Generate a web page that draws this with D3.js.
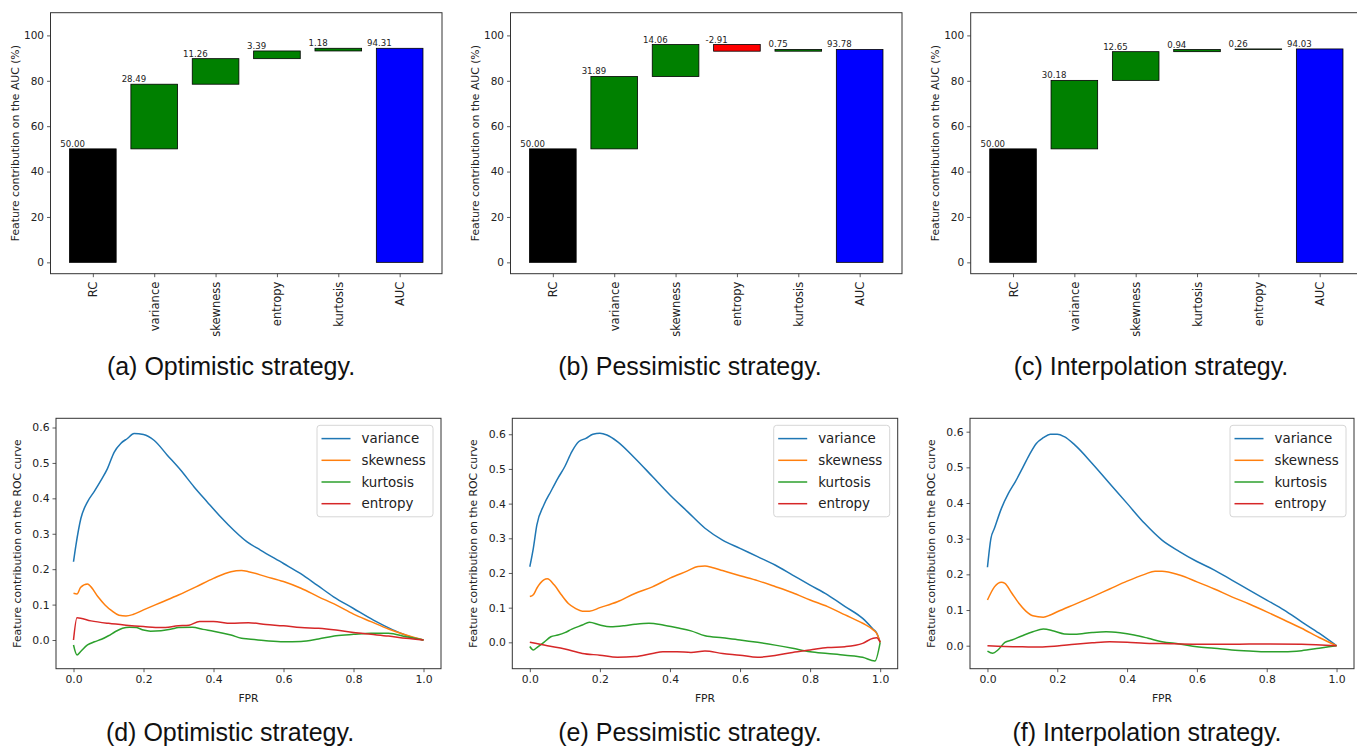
<!DOCTYPE html>
<html>
<head>
<meta charset="utf-8">
<script src="https://cdn.jsdelivr.net/npm/d3@7"></script>
<style>
  body { margin: 0; background: #fff; }
  text { font-family: "DejaVu Sans", sans-serif; fill: #222; }
  .caption { font-family: "Liberation Sans", Arial, sans-serif; font-size: 25px; fill: #111; }
</style>
</head>
<body>
<script>
// waterfall data
var catsA = ['RC', 'variance', 'skewness', 'entropy', 'kurtosis', 'AUC'];
var valsA = [50.00, 28.49, 11.26, 3.39, 1.18, 94.31];
var catsB = ['RC', 'variance', 'skewness', 'entropy', 'kurtosis', 'AUC'];
var valsB = [50.00, 31.89, 14.06, -2.91, 0.75, 93.78];
var catsC = ['RC', 'variance', 'skewness', 'kurtosis', 'entropy', 'AUC'];
var valsC = [50.00, 30.18, 12.65, 0.94, 0.26, 94.03];
var aucTicks = [0, 20, 40, 60, 80, 100];

// ROC contribution curves, [FPR, value]
var varD = [[0,0.221],[0.007,0.268],[0.021,0.343],[0.04,0.39],[0.059,0.419],[0.078,0.45],[0.097,0.484],[0.116,0.53],[0.135,0.555],[0.154,0.569],[0.173,0.583],[0.2,0.58],[0.23,0.564],[0.268,0.522],[0.306,0.48],[0.344,0.433],[0.382,0.39],[0.42,0.348],[0.458,0.31],[0.496,0.277],[0.534,0.254],[0.6,0.216],[0.648,0.188],[0.696,0.155],[0.743,0.122],[0.8,0.089],[0.857,0.056],[0.914,0.028],[0.962,0.009],[1,0]];
var skeD = [[0,0.132],[0.01,0.13],[0.02,0.148],[0.04,0.158],[0.05,0.15],[0.07,0.122],[0.09,0.099],[0.11,0.082],[0.13,0.07],[0.15,0.068],[0.17,0.072],[0.2,0.085],[0.25,0.106],[0.3,0.127],[0.35,0.15],[0.4,0.174],[0.45,0.193],[0.48,0.196],[0.5,0.193],[0.55,0.179],[0.6,0.165],[0.65,0.146],[0.7,0.122],[0.75,0.099],[0.8,0.073],[0.85,0.052],[0.9,0.031],[0.95,0.014],[1,0]];
var kurD = [[0,-0.014],[0.01,-0.042],[0.02,-0.033],[0.04,-0.014],[0.06,-0.005],[0.08,0.002],[0.1,0.012],[0.12,0.024],[0.14,0.033],[0.16,0.036],[0.18,0.035],[0.2,0.028],[0.22,0.025],[0.25,0.026],[0.28,0.031],[0.3,0.035],[0.34,0.036],[0.37,0.03],[0.4,0.025],[0.45,0.014],[0.48,0.005],[0.5,0.003],[0.55,-0.002],[0.6,-0.005],[0.65,-0.004],[0.7,0.003],[0.75,0.012],[0.8,0.016],[0.85,0.019],[0.9,0.019],[0.95,0.009],[1,0]];
var entD = [[0,0],[0.01,0.063],[0.05,0.054],[0.1,0.047],[0.15,0.042],[0.2,0.038],[0.25,0.035],[0.3,0.04],[0.33,0.042],[0.36,0.052],[0.4,0.052],[0.45,0.047],[0.5,0.049],[0.55,0.044],[0.6,0.04],[0.65,0.035],[0.7,0.033],[0.75,0.028],[0.8,0.021],[0.85,0.016],[0.9,0.011],[0.95,0.005],[1,0]];

var varE = [[0,0.218],[0.01,0.271],[0.02,0.338],[0.04,0.396],[0.06,0.435],[0.08,0.473],[0.1,0.507],[0.12,0.55],[0.14,0.579],[0.16,0.588],[0.18,0.6],[0.2,0.603],[0.22,0.598],[0.25,0.579],[0.3,0.531],[0.35,0.478],[0.4,0.425],[0.45,0.377],[0.5,0.329],[0.55,0.295],[0.6,0.271],[0.65,0.247],[0.7,0.223],[0.75,0.194],[0.8,0.165],[0.85,0.137],[0.9,0.103],[0.95,0.069],[0.98,0.038],[0.99,0.027],[1,0]];
var skeE = [[0,0.132],[0.01,0.137],[0.02,0.156],[0.04,0.18],[0.05,0.183],[0.07,0.165],[0.09,0.137],[0.11,0.112],[0.13,0.098],[0.15,0.09],[0.17,0.09],[0.2,0.1],[0.25,0.117],[0.3,0.141],[0.35,0.16],[0.4,0.185],[0.45,0.206],[0.48,0.219],[0.5,0.22],[0.52,0.216],[0.55,0.207],[0.6,0.192],[0.65,0.178],[0.7,0.161],[0.75,0.143],[0.8,0.122],[0.85,0.103],[0.9,0.079],[0.95,0.055],[0.98,0.036],[0.99,0.026],[1,0]];
var kurE = [[0,-0.012],[0.01,-0.022],[0.02,-0.015],[0.04,0],[0.06,0.016],[0.08,0.021],[0.1,0.028],[0.12,0.038],[0.15,0.05],[0.17,0.058],[0.2,0.05],[0.23,0.045],[0.27,0.048],[0.3,0.052],[0.34,0.055],[0.38,0.05],[0.42,0.042],[0.46,0.033],[0.5,0.019],[0.55,0.013],[0.6,0.007],[0.65,0],[0.7,-0.008],[0.75,-0.017],[0.8,-0.027],[0.85,-0.032],[0.9,-0.037],[0.95,-0.043],[0.985,-0.054],[1,0]];
var entE = [[0,0],[0.05,-0.01],[0.1,-0.019],[0.15,-0.032],[0.2,-0.037],[0.25,-0.043],[0.3,-0.041],[0.35,-0.032],[0.38,-0.027],[0.42,-0.027],[0.46,-0.029],[0.5,-0.025],[0.55,-0.032],[0.6,-0.037],[0.65,-0.043],[0.7,-0.038],[0.75,-0.029],[0.8,-0.022],[0.85,-0.015],[0.9,-0.0125],[0.95,-0.003],[0.98,0.012],[0.99,0.013],[1,0]];

var varF = [[0,0.22],[0.01,0.301],[0.02,0.329],[0.04,0.385],[0.06,0.427],[0.08,0.46],[0.1,0.497],[0.12,0.535],[0.14,0.567],[0.16,0.583],[0.18,0.593],[0.2,0.593],[0.22,0.586],[0.25,0.563],[0.3,0.511],[0.35,0.455],[0.4,0.399],[0.45,0.343],[0.5,0.296],[0.55,0.264],[0.6,0.236],[0.65,0.212],[0.7,0.184],[0.75,0.156],[0.8,0.128],[0.85,0.1],[0.9,0.067],[0.95,0.035],[1,0]];
var skeF = [[0,0.128],[0.02,0.165],[0.04,0.178],[0.05,0.175],[0.07,0.147],[0.09,0.119],[0.11,0.097],[0.13,0.084],[0.16,0.08],[0.18,0.086],[0.2,0.095],[0.25,0.116],[0.3,0.137],[0.35,0.159],[0.4,0.181],[0.45,0.2],[0.48,0.209],[0.5,0.209],[0.55,0.198],[0.6,0.179],[0.65,0.159],[0.7,0.137],[0.75,0.117],[0.8,0.095],[0.85,0.072],[0.9,0.049],[0.95,0.023],[1,0]];
var kurF = [[0,-0.015],[0.015,-0.021],[0.03,-0.012],[0.05,0.009],[0.07,0.016],[0.1,0.028],[0.13,0.039],[0.16,0.047],[0.19,0.041],[0.22,0.033],[0.25,0.032],[0.3,0.037],[0.34,0.039],[0.38,0.036],[0.42,0.03],[0.46,0.021],[0.5,0.011],[0.55,0.005],[0.6,-0.003],[0.65,-0.007],[0.7,-0.012],[0.75,-0.015],[0.8,-0.017],[0.85,-0.017],[0.9,-0.014],[0.95,-0.007],[1,0]];
var entF = [[0,0],[0.05,-0.002],[0.1,-0.003],[0.15,-0.004],[0.2,-0.001],[0.25,0.004],[0.3,0.008],[0.35,0.011],[0.4,0.01],[0.45,0.007],[0.5,0.006],[0.6,0.004],[0.7,0.004],[0.8,0.005],[0.9,0.004],[1,0]];

var seriesNames = ['variance', 'skewness', 'kurtosis', 'entropy'];
var seriesColors = ['#1f77b4', '#ff7f0e', '#2ca02c', '#d62728'];
var fprTicks = [0, 0.2, 0.4, 0.6, 0.8, 1.0];
var rocTicks = [0, 0.1, 0.2, 0.3, 0.4, 0.5, 0.6];

var svg = d3.select('body').append('svg')
  .attr('width', 1357)
  .attr('height', 750);

// matplotlib prints a plain hyphen, d3 a unicode minus
var fmt2 = function(v) { return d3.format('.2f')(v).replace('\u2212', '-'); };

function styleAxis(g, size) {
  g.selectAll('.domain').remove();
  g.selectAll('.tick line').attr('stroke', '#333').attr('stroke-width', 0.8);
  g.selectAll('.tick text').style('font-size', size + 'px').attr('fill', '#222');
}

function frame(g, w, h) {
  g.append('rect')
    .attr('width', w).attr('height', h)
    .attr('fill', 'none').attr('stroke', '#333').attr('stroke-width', 1);
}

function waterfall(box, cats, vals) {
  var w = box.right - box.left, h = box.bottom - box.top;
  var g = svg.append('g').attr('transform', 'translate(' + box.left + ',' + box.top + ')');

  var x = d3.scaleLinear().domain([-0.69, 5.69]).range([0, w]);
  var y = d3.scaleLinear().domain([-5, 110]).range([h, 0]);

  var run = 0;
  var bars = vals.map(function(v, i) {
    var b;
    if (i === 0) { b = { lo: 0, hi: v, fill: '#000000' }; run = v; }
    else if (i === vals.length - 1) { b = { lo: 0, hi: v, fill: '#0000ff' }; }
    else {
      b = { lo: Math.min(run, run + v), hi: Math.max(run, run + v), fill: v < 0 ? '#ff0000' : '#008000' };
      run += v;
    }
    b.i = i; b.v = v;
    return b;
  });

  var bw = 0.76;
  g.selectAll('rect.bar')
    .data(bars)
    .enter()
    .append('rect')
    .attr('class', 'bar')
    .attr('x', function(d) { return x(d.i - bw / 2); })
    .attr('width', x(bw) - x(0))
    .attr('y', function(d) { return y(d.hi); })
    .attr('height', function(d) { return y(d.lo) - y(d.hi); })
    .attr('fill', function(d) { return d.fill; })
    .attr('stroke', '#000')
    .attr('stroke-width', 0.8);

  g.selectAll('text.val')
    .data(bars)
    .enter()
    .append('text')
    .attr('class', 'val')
    .attr('x', function(d) { return x(d.i - 0.33); })
    .attr('y', function(d) { return y(d.hi) - 2; })
    .style('text-anchor', 'middle')
    .style('font-size', '8.6px')
    .text(function(d) { return fmt2(d.v); });

  frame(g, w, h);

  var ya = g.append('g').call(d3.axisLeft(y).tickValues(aucTicks).tickSize(3.5).tickPadding(3));
  styleAxis(ya, 10.5);

  var xa = g.append('g').attr('transform', 'translate(0,' + h + ')')
    .call(d3.axisBottom(x).tickValues(d3.range(cats.length)).tickFormat(function(d) { return cats[d]; }).tickSize(3.5));
  styleAxis(xa, 11.5);
  xa.selectAll('.tick text')
    .attr('transform', 'rotate(-90)')
    .attr('x', -8).attr('y', 0).attr('dy', '0.35em')
    .style('text-anchor', 'end');

  g.append('text')
    .attr('transform', 'rotate(-90)')
    .attr('x', -h / 2).attr('y', -35)
    .attr('dy', '0.35em')
    .style('text-anchor', 'middle')
    .style('font-size', '10.8px')
    .text('Feature contribution on the AUC (%)');
}

function rocPanel(box, yDomain, lines) {
  var w = box.right - box.left, h = box.bottom - box.top;
  var g = svg.append('g').attr('transform', 'translate(' + box.left + ',' + box.top + ')');

  var x = d3.scaleLinear().domain([-0.05, 1.05]).range([0, w]);
  var y = d3.scaleLinear().domain(yDomain).range([h, 0]);

  var line = d3.line()
    .x(function(d) { return x(d[0]); })
    .y(function(d) { return y(d[1]); })
    .curve(d3.curveMonotoneX);

  g.selectAll('path.curve')
    .data(lines)
    .enter()
    .append('path')
    .attr('class', 'curve')
    .attr('d', line)
    .attr('fill', 'none')
    .attr('stroke', function(d, i) { return seriesColors[i]; })
    .attr('stroke-width', 1.5);

  frame(g, w, h);

  var ya = g.append('g').call(d3.axisLeft(y).tickValues(rocTicks).tickFormat(d3.format('.1f')).tickSize(3.5).tickPadding(3));
  styleAxis(ya, 10.8);
  var xa = g.append('g').attr('transform', 'translate(0,' + h + ')')
    .call(d3.axisBottom(x).tickValues(fprTicks).tickFormat(d3.format('.1f')).tickSize(3.5).tickPadding(3));
  styleAxis(xa, 10.8);

  g.append('text')
    .attr('x', w / 2).attr('y', h + 30)
    .attr('dy', '0.35em')
    .style('text-anchor', 'middle')
    .style('font-size', '10.8px')
    .text('FPR');

  g.append('text')
    .attr('transform', 'rotate(-90)')
    .attr('x', -h / 2).attr('y', -39)
    .attr('dy', '0.35em')
    .style('text-anchor', 'middle')
    .style('font-size', '10.8px')
    .text('Feature contribution on the ROC curve');

  // legend
  var lg = g.append('g').attr('transform', 'translate(' + (w - 124) + ',7)');
  lg.append('rect')
    .attr('width', 116).attr('height', 91.5)
    .attr('rx', 3)
    .attr('fill', '#fff').attr('fill-opacity', 0.8)
    .attr('stroke', '#d6d6d6').attr('stroke-width', 1);
  var item = lg.selectAll('g.item')
    .data(seriesNames)
    .enter()
    .append('g')
    .attr('class', 'item')
    .attr('transform', function(d, i) { return 'translate(0,' + (13.3 + i * 21.7) + ')'; });
  item.append('line')
    .attr('x1', 4.5).attr('x2', 33.5)
    .attr('stroke', function(d, i) { return seriesColors[i]; })
    .attr('stroke-width', 1.5);
  item.append('text')
    .attr('x', 44.5).attr('dy', '0.35em')
    .style('font-size', '13.4px')
    .text(function(d) { return d; });
}

waterfall({ left: 50.5, right: 442, top: 12.7, bottom: 273.7 }, catsA, valsA);
waterfall({ left: 510.5, right: 902, top: 12.7, bottom: 273.7 }, catsB, valsB);
waterfall({ left: 970.7, right: 1362, top: 12.7, bottom: 273.7 }, catsC, valsC);

rocPanel({ left: 56, right: 441, top: 418.3, bottom: 668.7 }, [-0.081, 0.626], [varD, skeD, kurD, entD]);
rocPanel({ left: 512.3, right: 897.7, top: 418.3, bottom: 668.7 }, [-0.076, 0.646], [varE, skeE, kurE, entE]);
rocPanel({ left: 970, right: 1354, top: 418.3, bottom: 668.7 }, [-0.0645, 0.6375], [varF, skeF, kurF, entF]);

var captions = [
  { x: 231, y: 375, t: '(a) Optimistic strategy.' },
  { x: 690, y: 375, t: '(b) Pessimistic strategy.' },
  { x: 1151, y: 375, t: '(c) Interpolation strategy.' },
  { x: 230, y: 741, t: '(d) Optimistic strategy.' },
  { x: 690, y: 741, t: '(e) Pessimistic strategy.' },
  { x: 1147, y: 741, t: '(f) Interpolation strategy.' }
];
svg.selectAll('text.caption')
  .data(captions)
  .enter()
  .append('text')
  .attr('class', 'caption')
  .attr('x', function(d) { return d.x; })
  .attr('y', function(d) { return d.y; })
  .style('text-anchor', 'middle')
  .text(function(d) { return d.t; });
</script>
</body>
</html>
